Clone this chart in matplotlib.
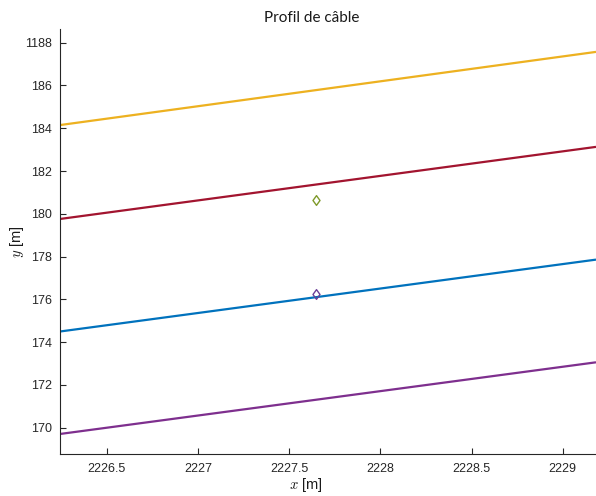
import matplotlib
matplotlib.use("Agg")
import matplotlib.pyplot as plt
from matplotlib.path import Path

plt.rcParams['font.family'] = ['Liberation Sans', 'DejaVu Sans']
plt.rcParams['mathtext.fontset'] = 'cm'

x_range = [2226.243, 2229.182]
line_names = ["yellow", "red", "blue", "purple"]
line_y_start = [184.15, 179.76, 174.50, 169.71]
line_y_end = [187.57, 183.13, 177.86, 173.06]
line_colors = ["#EDB120", "#A2142F", "#0072BD", "#7E2F8E"]

marker_x = [2227.645, 2227.645]
marker_y = [180.63, 176.27]
marker_colors = ["#7F9A2A", "#6B3F97"]

yticks = [170, 172, 174, 176, 178, 180, 182, 184, 186, 188]
yticklabels = ["170", "172", "174", "176", "178", "180", "182", "184", "186", "1188"]
xticks = [2226.5, 2227, 2227.5, 2228, 2228.5, 2229]
xticklabels = ["2226.5", "2227", "2227.5", "2228", "2228.5", "2229"]

diamond = Path([(0, -1), (0.72, 0), (0, 1), (-0.72, 0), (0, -1)],
               [Path.MOVETO, Path.LINETO, Path.LINETO, Path.LINETO, Path.CLOSEPOLY])

fig = plt.figure(figsize=(5.96, 4.96), dpi=100)
ax = fig.add_axes([60/596, (496-454.3)/496, 536/596, (454.3-29)/496])

for y0, y1, c in zip(line_y_start, line_y_end, line_colors):
    ax.plot(x_range, [y0, y1], color=c, lw=1.6, solid_capstyle='butt')

for mx, my, mc in zip(marker_x, marker_y, marker_colors):
    ax.plot([mx], [my], marker=diamond, markersize=7, markerfacecolor='none',
            markeredgecolor=mc, markeredgewidth=1.0, linestyle='none')

ax.set_xlim(x_range)
ax.set_ylim(168.76, 188.64)
ax.set_xticks(xticks)
ax.set_xticklabels(xticklabels)
ax.set_yticks(yticks)
ax.set_yticklabels(yticklabels)

for s in ['top', 'right']:
    ax.spines[s].set_visible(False)
for s in ['left', 'bottom']:
    ax.spines[s].set_color('#262626')
    ax.spines[s].set_linewidth(0.8)
ax.tick_params(direction='in', length=4, width=0.8, colors='#262626',
               labelsize=9, labelcolor='#262626', pad=6)

ax.set_title("Profil de câble", fontsize=11, color='#1a1a1a', pad=5,
             family=['Lato', 'DejaVu Sans'], x=(311.5-60)/536)
ax.set_xlabel("$x$ [m]", fontsize=10.5, color='#1a1a1a')
ax.xaxis.set_label_coords((306-60)/536, -0.05)
ax.set_ylabel("$y$ [m]", fontsize=10.5, color='#1a1a1a', labelpad=-1)

fig.savefig("out.png", dpi=100)
